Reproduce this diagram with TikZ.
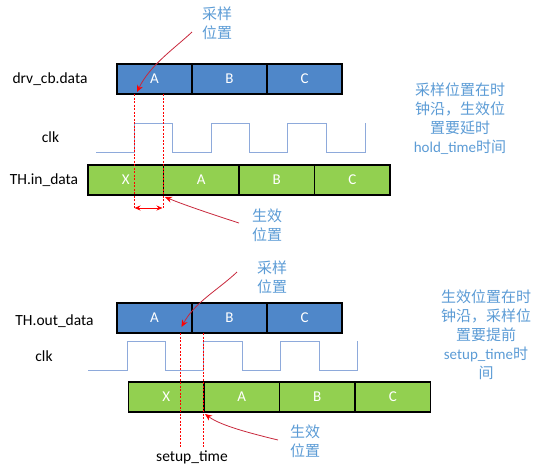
\documentclass[tikz,border=0pt]{standalone}
\usepackage{fontspec}
\setmainfont{Carlito}
\newfontfamily\cjk{Noto Sans CJK SC}
\usepackage{tikz}
\usetikzlibrary{arrows.meta}

\definecolor{cellblue}{HTML}{4F87C9}
\definecolor{cellgreen}{HTML}{92D050}
\definecolor{notetext}{HTML}{5B9BD5}
\definecolor{clkblue}{HTML}{8EAADB}
\definecolor{curvered}{HTML}{C8283C}

\tikzset{
    bluecell/.style={draw=black, line width=1.5pt, fill=cellblue, text=white,
        minimum width=75pt, minimum height=30pt, inner sep=0pt,
        font=\fontsize{15}{18}\selectfont},
    greencell/.style={bluecell, fill=cellgreen, minimum width=75.5pt},
    signame/.style={font=\fontsize{15.5}{18}\selectfont, inner sep=0pt},
    note/.style={text=notetext, align=center, inner sep=0pt,
        font=\cjk\fontsize{15}{19}\selectfont},
    clkline/.style={draw=clkblue, line width=1pt},
    marker/.style={draw=red, line width=1pt, dash pattern=on 2pt off 1.5pt},
    pointer/.style={draw=curvered, line width=0.8pt,
        -{Stealth[length=7pt,width=6pt,fill=red,color=red]}}
}

\begin{document}
\begin{tikzpicture}[x=1pt, y=-1pt]
    \useasboundingbox (0,0) rectangle (542,475);

    % upper diagram
    \node[signame] (drvlbl) at (50,79) {drv\_cb.data};
    \node[signame] (clklbl1) at (50.5,137) {clk};
    \node[signame] (inlbl) at (44,180) {TH.in\_data};

    \node[bluecell] (dA) at (154.5,79) {A};
    \node[bluecell] (dB) at (229.5,79) {B};
    \node[bluecell] (dC) at (304.5,79) {C};

    \draw[clkline] (96,152) -- (134,152) -- (134,123) -- (172,123) -- (172,152)
        -- (211,152) -- (211,123) -- (249,123) -- (249,152) -- (287,152)
        -- (287,123) -- (326,123) -- (326,152) -- (365,152) -- (365,123);

    \node[greencell] (iX) at (125.75,180) {X};
    \node[greencell] (iA) at (201.25,180) {A};
    \node[greencell] (iB) at (276.75,180) {B};
    \node[greencell] (iC) at (352.25,180) {C};

    \coordinate (hs) at (134,94);
    \coordinate (he) at (134,209);
    \coordinate (es) at (163,94);
    \coordinate (ee) at (163,209);
    \draw[marker] (hs) -- (he);
    \draw[marker] (es) -- (ee);
    \draw[red, line width=1pt, {Stealth[length=6pt,width=5pt]}-{Stealth[length=6pt,width=5pt]}]
        (134.5,208) -- (162.5,208);

    \node[note] (samp1) at (217,23.5) {采样\\位置};
    \node[note] (eff1) at (267,225) {生效\\位置};
    \coordinate (s1) at (192,32);
    \coordinate (t1) at (137,92);
    \coordinate (s2) at (239,223);
    \coordinate (t2) at (165,197);
    \draw[pointer] (s1) .. controls (175,48) and (150,65) .. (t1);
    \draw[pointer] (s2) .. controls (205,212) and (182,204) .. (t2);

    \node[note] (hold) at (460,118.5) {采样位置在时\\钟沿，生效位\\置要延时\\\textrm{hold\_time}时间};

    % lower diagram
    \node[signame] (outlbl) at (54.5,321) {TH.out\_data};
    \node[signame] (clklbl2) at (44,356) {clk};

    \node[bluecell] (oA) at (154.5,318) {A};
    \node[bluecell] (oB) at (229.5,318) {B};
    \node[bluecell] (oC) at (304.5,318) {C};

    \draw[clkline] (88,370) -- (127,370) -- (127,341) -- (165,341) -- (165,370)
        -- (203,370) -- (203,341) -- (242,341) -- (242,370) -- (280,370)
        -- (280,341) -- (319,341) -- (319,370) -- (357,370) -- (357,341);

    \node[greencell] (gX) at (166.25,397) {X};
    \node[greencell] (gA) at (241.75,397) {A};
    \node[greencell] (gB) at (317.25,397) {B};
    \node[greencell] (gC) at (392.75,397) {C};

    \coordinate (us) at (180,333);
    \coordinate (ue) at (180,447);
    \coordinate (vs) at (203,333);
    \coordinate (ve) at (203,447);
    \draw[marker] (us) -- (ue);
    \draw[marker] (vs) -- (ve);

    \node[signame] (setup) at (192,457) {setup\_time};

    \node[note] (samp2) at (272,277) {采样\\位置};
    \node[note] (eff2) at (305,441) {生效\\位置};
    \coordinate (s3) at (237,272);
    \coordinate (t3) at (181.5,327);
    \coordinate (s4) at (278,440);
    \coordinate (t4) at (205,414);
    \draw[pointer] (s3) .. controls (218,290) and (195,302) .. (t3);
    \draw[pointer] (s4) .. controls (245,432) and (220,425) .. (t4);

    \node[note] (setupnote) at (486,335) {生效位置在时\\钟沿，采样位\\置要提前\\\textrm{setup\_time}时\\间};
\end{tikzpicture}
\end{document}
